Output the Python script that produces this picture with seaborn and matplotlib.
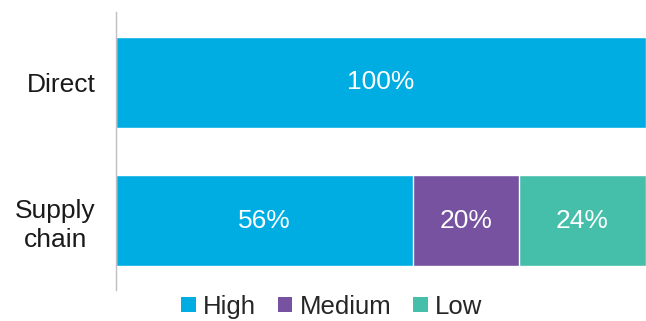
import matplotlib
matplotlib.use("Agg")
import matplotlib.pyplot as plt
import seaborn as sns
import pandas as pd
import numpy as np
from matplotlib.patches import Patch

categories = ["Direct", "Supply chain"]
tick_labels = ["Direct", "Supply\nchain"]
series = ["High", "Medium", "Low"]
high = [100, 56]
medium = [0, 20]
low = [0, 24]
colors = {"High": "#00ADE3", "Medium": "#7652A0", "Low": "#45BFAA"}

sns.set_theme(style="white")
plt.rcParams["font.family"] = ["Liberation Sans", "DejaVu Sans"]

fig = plt.figure(figsize=(6.46, 3.21), dpi=100)
ax = fig.add_axes([0.18, 0.097, 0.82, 0.866])

vals = {"High": np.array(high), "Medium": np.array(medium), "Low": np.array(low)}
cum = np.zeros(len(categories))
lefts = {}
for s in series:
    lefts[s] = cum.copy()
    cum = cum + vals[s]
cums = {s: lefts[s] + vals[s] for s in series}

# draw cumulative bars from the outermost to innermost
for s in reversed(series):
    df = pd.DataFrame({"cat": categories, "val": cums[s]})
    sns.barplot(data=df, x="val", y="cat", orient="h", color=colors[s],
                width=0.66, edgecolor="white", linewidth=1.0, saturation=1,
                ax=ax, order=categories)

for i, c in enumerate(categories):
    for s in series:
        v = vals[s][i]
        if v > 0:
            ax.text(lefts[s][i] + v / 2, i, f"{v}%", ha="center", va="center",
                    color="white", fontsize=19)

ax.set_xlim(0, 100)
ax.set_ylim(1.5, -0.51)
ax.set_xlabel("")
ax.set_ylabel("")
ax.set_xticks([])
ax.set_yticks(range(len(categories)))
ax.set_yticklabels(tick_labels, fontsize=19, color="#1a1a1a", multialignment="center",
                   linespacing=1.25)
ax.tick_params(axis="y", length=0, pad=15)
for sp in ["top", "right", "bottom"]:
    ax.spines[sp].set_visible(False)
ax.spines["left"].set_color("#BFBFBF")
ax.spines["left"].set_linewidth(1.0)

handles = [Patch(facecolor=colors[s], edgecolor="none", label=s) for s in series]
fig.legend(handles=handles, loc="center", bbox_to_anchor=(0.514, 0.045), ncol=3,
           frameon=False, fontsize=18.5, handlelength=0.55, handleheight=0.55,
           handletextpad=0.3, columnspacing=0.85, borderaxespad=0)

fig.savefig("out.png", dpi=100)
